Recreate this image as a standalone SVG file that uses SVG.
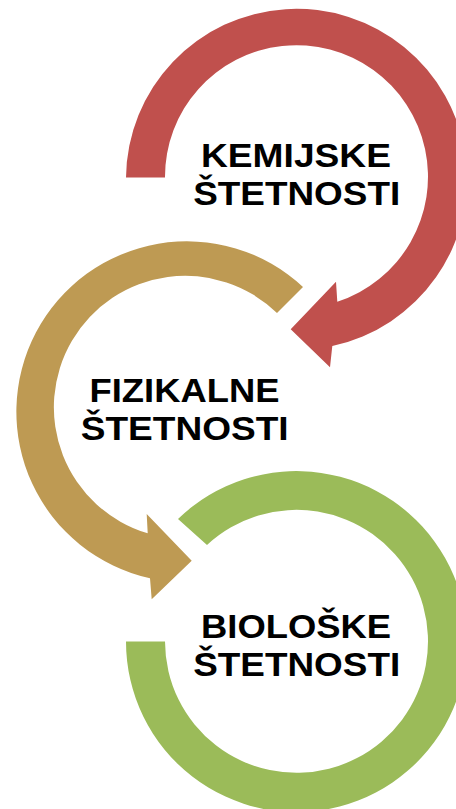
<svg xmlns="http://www.w3.org/2000/svg" width="456" height="809" viewBox="0 0 456 809">
<style>
.lbl{font-family:"Liberation Sans",Arial,sans-serif;font-weight:bold;font-size:33px;fill:#000;text-anchor:middle}
</style>
<rect width="456" height="809" fill="#fff"/>
<g id="connectors">
</g>
<g id="node-kemijske">
<path fill="#C0504D" d="M126,177.5 A170.5,170.5 0 1 1 332.3,346 L330,367.3 L290.7,329.3 L336,281.7 L337.3,301.7 A131.5,131.5 0 1 0 165,177.5 Z"/>
<text class="lbl" x="296" y="167.3" textLength="190" lengthAdjust="spacingAndGlyphs">KEMIJSKE</text>
<text class="lbl" x="296.7" y="205" textLength="207" lengthAdjust="spacingAndGlyphs">ŠTETNOSTI</text>
</g>
<g id="node-fizikalne">
<path fill="#BE9A53" d="M303,287 A170.5,170.5 0 1 0 150,578.3 L151.7,599.3 L191.7,560.7 L146.7,514 L147.7,533.3 A131.5,131.5 0 1 1 277,313 Z"/>
<text class="lbl" x="184.5" y="402.3" textLength="190" lengthAdjust="spacingAndGlyphs">FIZIKALNE</text>
<text class="lbl" x="184.7" y="440" textLength="208" lengthAdjust="spacingAndGlyphs">ŠTETNOSTI</text>
</g>
<g id="node-bioloske">
<path fill="#9BBB59" d="M178,519 A170.5,170.5 0 1 1 126,641.5 L165,641.5 A131.5,131.5 0 1 0 207,545 Z"/>
<text class="lbl" x="296" y="638.3" textLength="190" lengthAdjust="spacingAndGlyphs">BIOLOŠKE</text>
<text class="lbl" x="296.7" y="676" textLength="207" lengthAdjust="spacingAndGlyphs">ŠTETNOSTI</text>
</g>
</svg>
